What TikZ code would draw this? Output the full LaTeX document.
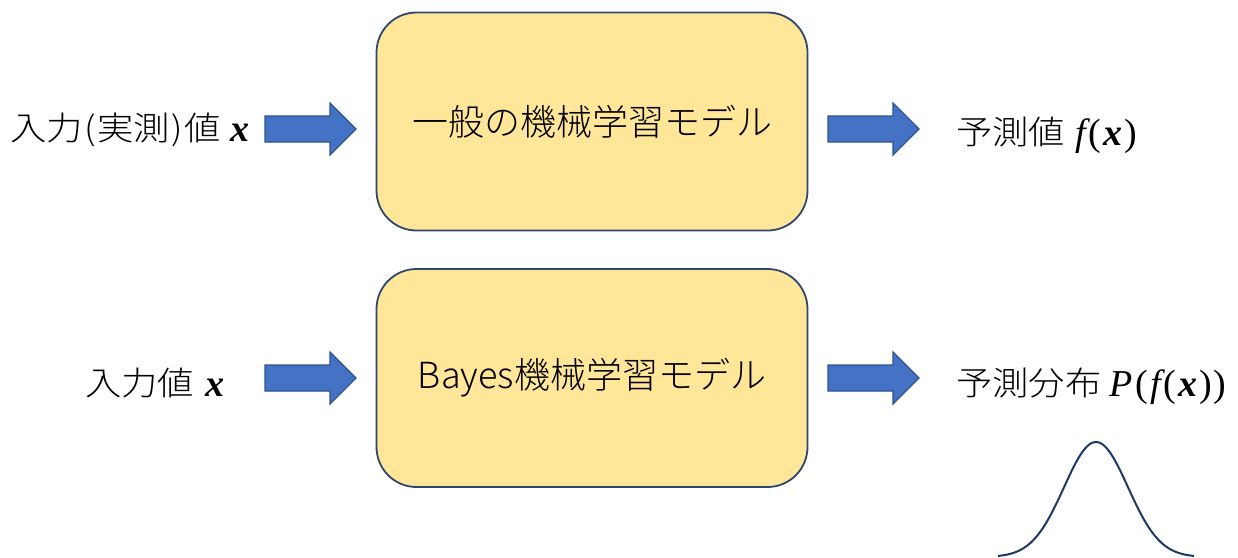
\documentclass[tikz,border=0pt]{standalone}
\usepackage{fontspec}
\IfFontExistsTF{Noto Sans CJK JP Light}
  {\setmainfont{Noto Sans CJK JP Light}
   \newfontfamily\widecjk{Noto Sans CJK JP Light}[FakeStretch=1.1]}
  {\setmainfont{Noto Sans CJK JP}
   \newfontfamily\widecjk{Noto Sans CJK JP}[FakeStretch=1.1]}
\newfontfamily\varfont{Liberation Serif}

\definecolor{modelfill}{HTML}{FFE699}
\definecolor{modeledge}{HTML}{2F4670}
\definecolor{arrowfill}{HTML}{4472C4}
\definecolor{arrowedge}{HTML}{2F528F}
\definecolor{curvecol}{HTML}{203864}

% variables in serif italic, the vector x in bold italic
\newcommand{\vx}{{\bfseries\itshape x}}
\newcommand{\vi}[1]{{\itshape #1}}
\newcommand{\lp}{\kern3pt(\kern2pt}
\newcommand{\rp}{\kern2pt)}
\newcommand{\jp}[1]{\kern1.5pt#1\kern1.5pt}

\tikzset{
  modelbox/.style={draw=modeledge, fill=modelfill, line width=1.8pt,
    rounded corners=40pt, minimum width=431pt, minimum height=218pt,
    inner sep=0pt, font=\fontsize{36}{40}\selectfont},
  sidelabel/.style={inner sep=0pt, anchor=base west,
    font=\fontsize{33}{36}\selectfont\widecjk},
  formula/.style={inner sep=0pt, anchor=base west,
    font=\fontsize{38}{42}\selectfont\varfont},
  % block arrow: shaft 26 high, head 52 high, total length 91
  blockarrow/.pic={
    \draw[draw=arrowedge, fill=arrowfill, line width=1.2pt, line join=miter]
      (0,-13) -- (65,-13) -- (65,-26) -- (91,0) -- (65,26) -- (65,13)
      -- (0,13) -- cycle;
  },
  bell/.style={draw=curvecol, line width=2pt}
}

\begin{document}
\begin{tikzpicture}[x=1pt, y=-1pt]
  \useasboundingbox (0,0) rectangle (1238,557);

  % upper row: ordinary model
  \node[modelbox] (m1) at (592,121.5) {一般の機械学習モデル};
  \node[sidelabel] (in1) at (10,140) {入力\jp{(}実測\jp{)}値};
  \node[formula] (in1x) at (230,141) {\vx};
  \node[sidelabel] (out1) at (956,144) {予測値};
  \node[formula] (out1f) at (1075,145) {\vi{f}\lp\vx\rp};
  \pic at (265,129) {blockarrow};
  \pic at (828,129) {blockarrow};

  % lower row: Bayesian model
  \node[modelbox] (m2) at (592,378) {Bayes機械学習モデル};
  \node[sidelabel] (in2) at (85,395) {入力値};
  \node[formula] (in2x) at (205,396) {\vx};
  \node[sidelabel] (out2) at (956,395) {予測分布};
  \node[formula] (out2f) at (1109,396) {\vi{P}\lp\vi{f}\lp\vx\rp\rp};
  \pic at (265,378) {blockarrow};
  \pic at (828,378) {blockarrow};

  % predictive distribution sketch
  \draw[bell, smooth, samples=80, domain=-98:98]
    plot (1096+\x, {557 - 115*exp(-(\x*\x)/(2*32*32))});
\end{tikzpicture}
\end{document}
